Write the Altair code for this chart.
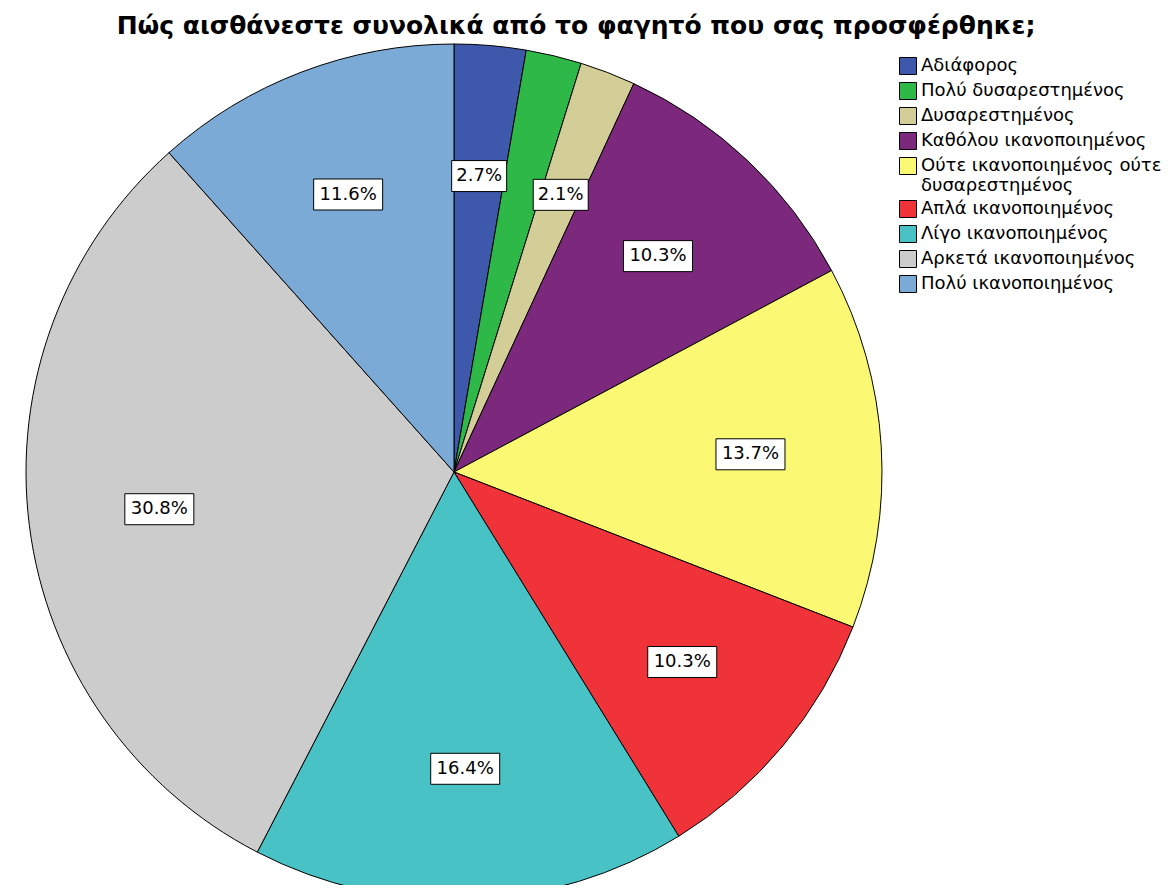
import altair as alt
import pandas as pd

categories = [
    "Αδιάφορος",
    "Πολύ δυσαρεστημένος",
    "Δυσαρεστημένος",
    "Καθόλου ικανοποιημένος",
    "Ούτε ικανοποιημένος ούτε δυσαρεστημένος",
    "Απλά ικανοποιημένος",
    "Λίγο ικανοποιημένος",
    "Αρκετά ικανοποιημένος",
    "Πολύ ικανοποιημένος",
]
percents = [2.7, 2.1, 2.1, 10.3, 13.7, 10.3, 16.4, 30.8, 11.6]
slice_labels = ["2.7%", "", "2.1%", "10.3%", "13.7%", "10.3%", "16.4%", "30.8%", "11.6%"]
colors = ["#3e58ac", "#2eb848", "#d3ce97", "#7c287d", "#fbf873",
          "#ef3338", "#48c2c5", "#cccccc", "#7aaad5"]
title_text = "Πώς αισθάνεστε συνολικά από το φαγητό που σας προσφέρθηκε;"

df = pd.DataFrame({
    "cat": categories,
    "pct": percents,
    "label": slice_labels,
    "idx": list(range(len(categories))),
})

CX, CY, R = 446, 419, 428
LR = 297
BOX_H = 31
FONT = "DejaVu Sans"

base = alt.Chart(df)

pie = base.mark_arc(stroke="black", strokeWidth=1, radius=R, x=CX, y=CY).encode(
    theta=alt.Theta("pct:Q", stack=True),
    order=alt.Order("idx:Q"),
    color=alt.Color(
        "cat:N",
        scale=alt.Scale(domain=categories, range=colors),
        legend=alt.Legend(
            title=None,
            orient="none",
            legendX=891,
            legendY=4,
            symbolType="square",
            symbolSize=289,
            symbolStrokeColor="black",
            symbolStrokeWidth=1,
            symbolOpacity=1,
            labelFont=FONT,
            labelFontSize=18,
            labelColor="black",
            labelLimit=400,
            labelOffset=4,
            rowPadding=3,
            labelExpr="indexof(datum.label, 'ούτε δυσ') > 0 ? ['Ούτε ικανοποιημένος ούτε', 'δυσαρεστημένος'] : datum.label",
        ),
    ),
)

lab = base.transform_window(
    cum="sum(pct)", sort=[alt.SortField("idx")], frame=[None, 0]
).transform_calculate(
    mid="(datum.cum - datum.pct / 2) / 100 * 2 * PI",
).transform_calculate(
    lx=f"{CX} + {LR} * sin(datum.mid)",
    ly=f"{CY} - {LR} * cos(datum.mid)",
    w="14 * length(datum.label) - 1",
).transform_calculate(
    x1="datum.lx - datum.w / 2",
    x2="datum.lx + datum.w / 2",
    y1=f"datum.ly - {BOX_H / 2}",
    y2=f"datum.ly + {BOX_H / 2}",
).transform_filter("datum.label != ''")

boxes = lab.mark_rect(fill="white", stroke="black", strokeWidth=1).encode(
    x=alt.X("x1:Q", scale=None),
    x2="x2:Q",
    y=alt.Y("y1:Q", scale=None),
    y2="y2:Q",
)

texts = lab.mark_text(font=FONT, fontSize=18, color="black",
                      baseline="middle", align="center").encode(
    x=alt.X("lx:Q", scale=None),
    y=alt.Y("ly:Q", scale=None),
    text="label:N",
)

chart = alt.layer(pie, boxes, texts).properties(
    width=1160,
    height=832,
    autosize="none",
    padding={"left": 0, "top": 45, "right": 0, "bottom": 0},
    title=alt.TitleParams(
        text=title_text,
        font=FONT,
        fontSize=25,
        fontWeight="bold",
        color="black",
        anchor="middle",
        dx=-12,
        offset=3,
    ),
).configure_view(stroke=None)

chart.save("out.html", embed_options={"renderer": "svg", "actions": False})
